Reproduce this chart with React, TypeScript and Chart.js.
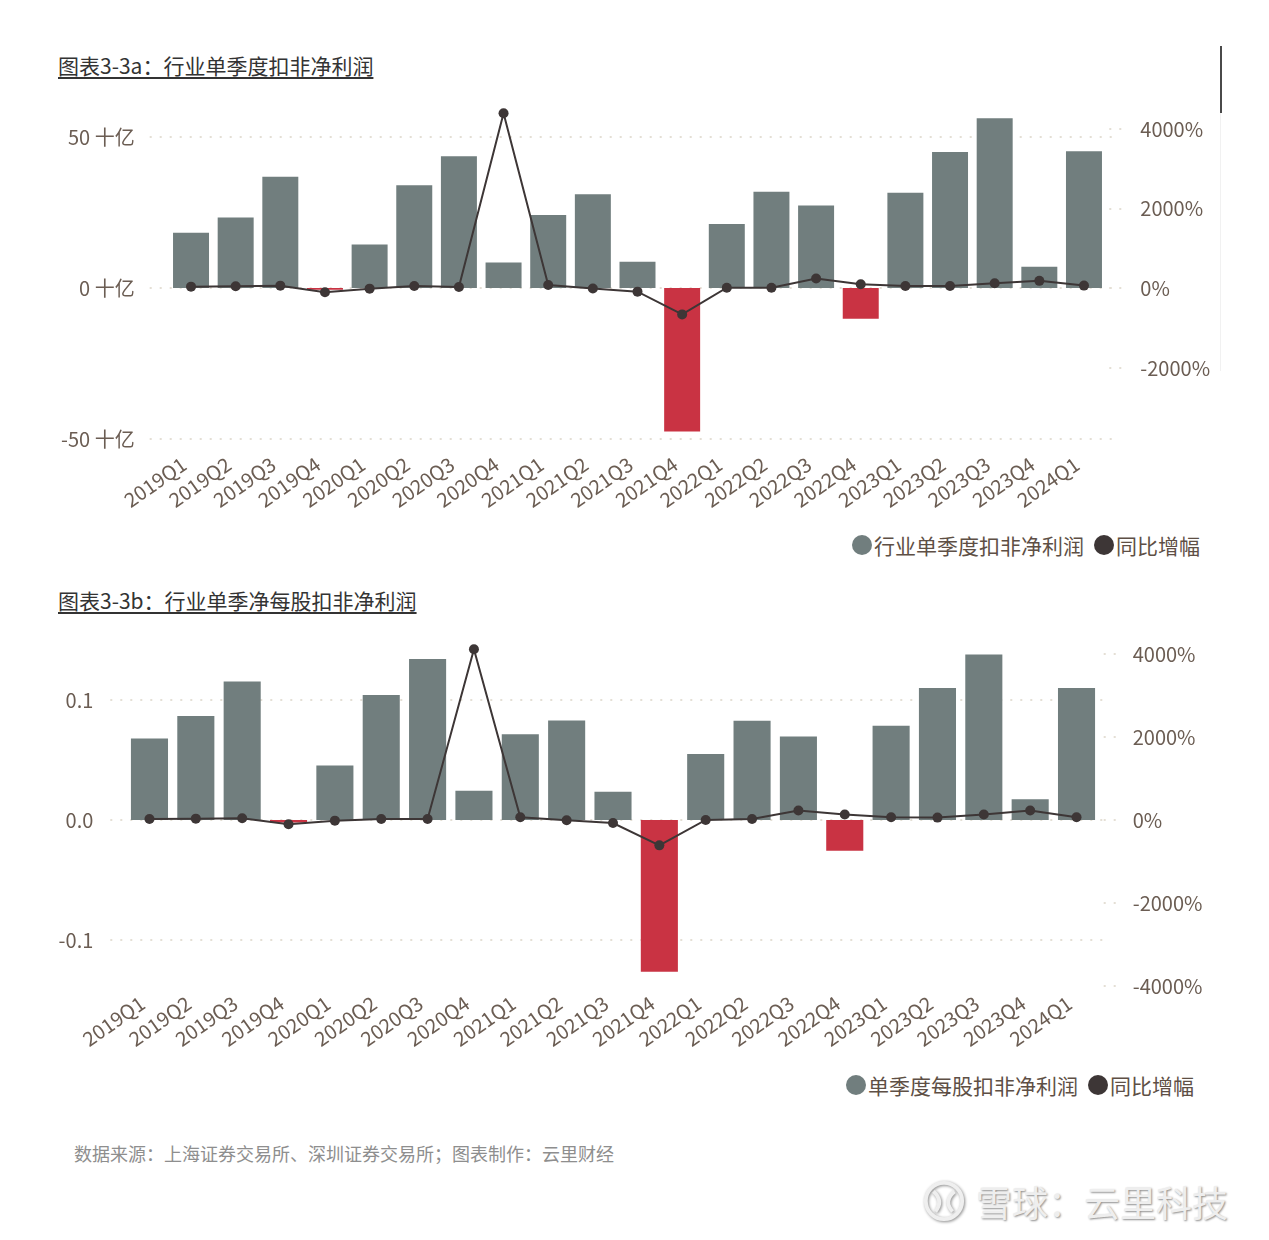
import React, { useEffect, useRef } from "react";
import { Chart, registerables } from "chart.js";

Chart.register(...registerables);

const categories = [
  "2019Q1", "2019Q2", "2019Q3", "2019Q4",
  "2020Q1", "2020Q2", "2020Q3", "2020Q4",
  "2021Q1", "2021Q2", "2021Q3", "2021Q4",
  "2022Q1", "2022Q2", "2022Q3", "2022Q4",
  "2023Q1", "2023Q2", "2023Q3", "2023Q4",
  "2024Q1",
];

// Chart 3-3a: industry quarterly net profit excl. non-recurring (十亿)
const profitA = [18.3, 23.3, 36.8, -0.6, 14.4, 34.0, 43.6, 8.4, 24.2, 31.0, 8.7, -47.5, 21.2, 31.9, 27.3, -10.2, 31.5, 45.0, 56.2, 7.0, 45.3];
const yoyA = [42, 50, 67, -100, -8, 58, 33, 4393, 84, -5, -84, -655, 15, 15, 247, 100, 60, 60, 128, 187, 68];
const leftTicksA = [-50, 0, 50];
const rightTicksA = [-2000, 0, 2000, 4000];

// Chart 3-3b: per-share quarterly net profit excl. non-recurring
const profitB = [0.068, 0.0866, 0.1154, -0.002, 0.0454, 0.1042, 0.1342, 0.0244, 0.0714, 0.0829, 0.0235, -0.1265, 0.0551, 0.0828, 0.0695, -0.0257, 0.0785, 0.110, 0.1379, 0.0172, 0.110];
const yoyB = [24, 32, 40, -104, -16, 24, 24, 4112, 64, -8, -75, -612, 0, 25, 229, 130, 65, 57, 130, 229, 65];
const leftTicksB = [-0.1, 0, 0.1];
const rightTicksB = [-4000, -2000, 0, 2000, 4000];

const GRAY = "#717e7e";
const RED = "#c93343";
const LINE = "#3d3636";
const TICK = "#6b5d53";
const GRID = "#e4dfd5";
const FONT = "'Noto Sans CJK SC', 'Noto Sans', sans-serif";

const dotGrid = {
  id: "dotGrid",
  beforeDatasetsDraw(chart: any, _args: any, opts: any) {
    const { ctx, chartArea } = chart;
    const y = chart.scales.y;
    const y2 = chart.scales.y2;
    ctx.save();
    ctx.strokeStyle = GRID;
    ctx.lineWidth = 2;
    ctx.setLineDash([2, 8]);
    y.ticks.forEach((t: any) => {
      const py = Math.round(y.getPixelForValue(t.value));
      ctx.beginPath();
      ctx.moveTo(chartArea.left - opts.extL, py);
      ctx.lineTo(chartArea.right + opts.extR, py);
      ctx.stroke();
    });
    y2.ticks.forEach((t: any) => {
      const py = Math.round(y2.getPixelForValue(t.value));
      ctx.beginPath();
      ctx.moveTo(chartArea.right + opts.r2a, py);
      ctx.lineTo(chartArea.right + opts.r2b, py);
      ctx.stroke();
    });
    ctx.restore();
  },
};

type Props = {
  bars: number[];
  yoy: number[];
  barLabel: string;
  leftMin: number;
  leftMax: number;
  leftTicks: number[];
  leftFmt: (v: number) => string;
  rightMin: number;
  rightMax: number;
  rightTicks: number[];
  areaLeft: number;
  areaRight: number;
  padTop: number;
  xHeight: number;
  height: number;
  top: number;
  barPct: number;
  yPad: number;
  xPad: number;
  xOff: number;
  extL: number;
  extR: number;
};

const W = 1269;

const zeroPad = (s: any) => {
  s.paddingTop = 0;
  s.paddingBottom = 0;
  s.paddingLeft = 0;
  s.paddingRight = 0;
};

function BarLineChart(p: Props) {
  const ref = useRef<HTMLCanvasElement | null>(null);
  useEffect(() => {
    if (!ref.current) return;
    const chart = new Chart(ref.current, {
      type: "bar",
      data: {
        labels: categories,
        datasets: [
          {
            type: "line",
            label: "同比增幅",
            data: p.yoy,
            yAxisID: "y2",
            borderColor: LINE,
            backgroundColor: LINE,
            borderWidth: 2,
            pointRadius: 5,
            pointBackgroundColor: LINE,
            pointBorderWidth: 0,
            tension: 0,
            order: 0,
          } as any,
          {
            type: "bar",
            label: p.barLabel,
            data: p.bars,
            yAxisID: "y",
            backgroundColor: p.bars.map((v) => (v < 0 ? RED : GRAY)),
            categoryPercentage: 1,
            barPercentage: p.barPct,
            order: 1,
          } as any,
        ],
      },
      options: {
        animation: false,
        responsive: false,
        maintainAspectRatio: false,
        layout: { autoPadding: false, padding: { top: p.padTop, left: 0, right: 0, bottom: 0 } },
        plugins: {
          legend: { display: false },
          tooltip: { enabled: false },
          dotGrid: { extL: p.extL, extR: p.extR, r2a: p.extR - 6, r2b: p.extR + 10 },
        } as any,
        scales: {
          x: {
            type: "category",
            offset: true,
            grid: { display: false, drawTicks: false },
            border: { display: false },
            ticks: {
              autoSkip: false,
              maxRotation: 35,
              minRotation: 35,
              color: TICK,
              padding: p.xPad,
              labelOffset: p.xOff,
              font: { family: FONT, size: 20 },
            },
            afterFit: (s: any) => {
              s.height = p.xHeight;
              zeroPad(s);
            },
          },
          y: {
            position: "left",
            min: p.leftMin,
            max: p.leftMax,
            grid: { display: false, drawTicks: false },
            border: { display: false },
            afterBuildTicks: (s: any) => {
              s.ticks = p.leftTicks.map((v) => ({ value: v }));
            },
            ticks: {
              color: TICK,
              padding: p.yPad,
              font: { family: FONT, size: 20 },
              callback: (v: any) => p.leftFmt(Number(v)),
            },
            afterFit: (s: any) => {
              s.width = p.areaLeft;
              zeroPad(s);
            },
          },
          y2: {
            position: "right",
            min: p.rightMin,
            max: p.rightMax,
            grid: { display: false, drawTicks: false },
            border: { display: false },
            afterBuildTicks: (s: any) => {
              s.ticks = p.rightTicks.map((v) => ({ value: v }));
            },
            ticks: {
              color: TICK,
              padding: p.yPad,
              font: { family: FONT, size: 20 },
              callback: (v: any) => `${v}%`,
            },
            afterFit: (s: any) => {
              s.width = W - p.areaRight;
              zeroPad(s);
            },
          },
        },
      } as any,
      plugins: [dotGrid as any],
    });
    return () => chart.destroy();
  }, []);
  return (
    <canvas
      ref={ref}
      width={W}
      height={p.height}
      style={{ position: "absolute", left: 0, top: p.top, width: W, height: p.height, display: "block" }}
    />
  );
}

const titleStyle: React.CSSProperties = {
  position: "absolute",
  left: 58,
  fontFamily: FONT,
  fontSize: 21,
  lineHeight: "24px",
  color: "#333",
  textDecoration: "underline",
  textUnderlineOffset: "3px",
  textDecorationThickness: "1.5px",
  whiteSpace: "nowrap",
};

function Legend({ top, left, label }: { top: number; left: number; label: string }) {
  const dot = (c: string): React.CSSProperties => ({
    display: "inline-block",
    width: 20,
    height: 20,
    borderRadius: 10,
    background: c,
    marginRight: 2,
    verticalAlign: "middle",
  });
  return (
    <div
      style={{
        position: "absolute",
        left,
        top,
        fontFamily: FONT,
        fontSize: 21,
        lineHeight: "26px",
        color: "#5e4f45",
        whiteSpace: "nowrap",
        display: "flex",
        alignItems: "center",
      }}
    >
      <span style={dot(GRAY)} />
      <span>{label}</span>
      <span style={{ ...dot(LINE), marginLeft: 10 }} />
      <span>同比增幅</span>
    </div>
  );
}

export default function App() {
  return (
    <div style={{ position: "absolute", left: 0, top: 0, width: W, height: 1240, background: "#fff", overflow: "hidden" }}>
      <div style={{ ...titleStyle, top: 53 }}>图表3-3a：行业单季度扣非净利润</div>
      <div style={{ position: "absolute", left: 1220, top: 46, width: 2, height: 67, background: "#4a4a4a" }} />
      <div style={{ position: "absolute", left: 1220, top: 113, width: 1, height: 258, background: "#f1f1f1" }} />
      <BarLineChart
        bars={profitA}
        yoy={yoyA}
        barLabel="行业单季度扣非净利润"
        leftMin={-53}
        leftMax={60.6}
        leftTicks={leftTicksA}
        leftFmt={(v) => `${v} 十亿`}
        rightMin={-4009}
        rightMax={4602}
        rightTicks={rightTicksA}
        areaLeft={168.7}
        areaRight={1106.3}
        padTop={20}
        xHeight={70}
        height={433}
        top={85}
        barPct={0.806}
        yPad={34}
        xPad={4}
        xOff={-7}
        extL={19}
        extR={9}
      />
      <Legend top={532} left={852} label="行业单季度扣非净利润" />

      <div style={{ ...titleStyle, top: 588 }}>图表3-3b：行业单季净每股扣非净利润</div>
      <BarLineChart
        bars={profitB}
        yoy={yoyB}
        barLabel="单季度每股扣非净利润"
        leftMin={-0.14}
        leftMax={0.15}
        leftTicks={leftTicksB}
        leftFmt={(v) => v.toFixed(1)}
        rightMin={-4049}
        rightMax={4337}
        rightTicks={rightTicksB}
        areaLeft={126.3}
        areaRight={1099.7}
        padTop={20}
        xHeight={70}
        height={438}
        top={620}
        barPct={0.8}
        yPad={33}
        xPad={3}
        xOff={-7}
        extL={16}
        extR={10}
      />
      <Legend top={1072} left={846} label="单季度每股扣非净利润" />

      <div
        style={{
          position: "absolute",
          left: 74,
          top: 1141,
          fontFamily: FONT,
          fontSize: 18,
          lineHeight: "24px",
          color: "#8e8e8e",
          whiteSpace: "nowrap",
        }}
      >
        数据来源：上海证券交易所、深圳证券交易所；图表制作：云里财经
      </div>

      <div style={{ position: "absolute", left: 922, top: 1178, display: "flex", alignItems: "center" }}>
        <svg width="44" height="44" viewBox="0 0 46 46" style={{ filter: "drop-shadow(1px 1px 1.5px rgba(0,0,0,0.45))" }}>
          <circle cx="23" cy="23" r="19" fill="none" stroke="#efefef" strokeWidth="4" />
          <path d="M12 13 Q23 23 14 34" fill="none" stroke="#efefef" strokeWidth="4" />
          <path d="M34 13 Q22 23 32 34" fill="none" stroke="#efefef" strokeWidth="4" />
        </svg>
        <span
          style={{
            fontFamily: FONT,
            fontSize: 36,
            lineHeight: "46px",
            color: "#eeeeee",
            marginLeft: 10,
            textShadow: "1px 1px 2px rgba(0,0,0,0.45)",
            whiteSpace: "nowrap",
          }}
        >
          雪球：云里科技
        </span>
      </div>
    </div>
  );
}
